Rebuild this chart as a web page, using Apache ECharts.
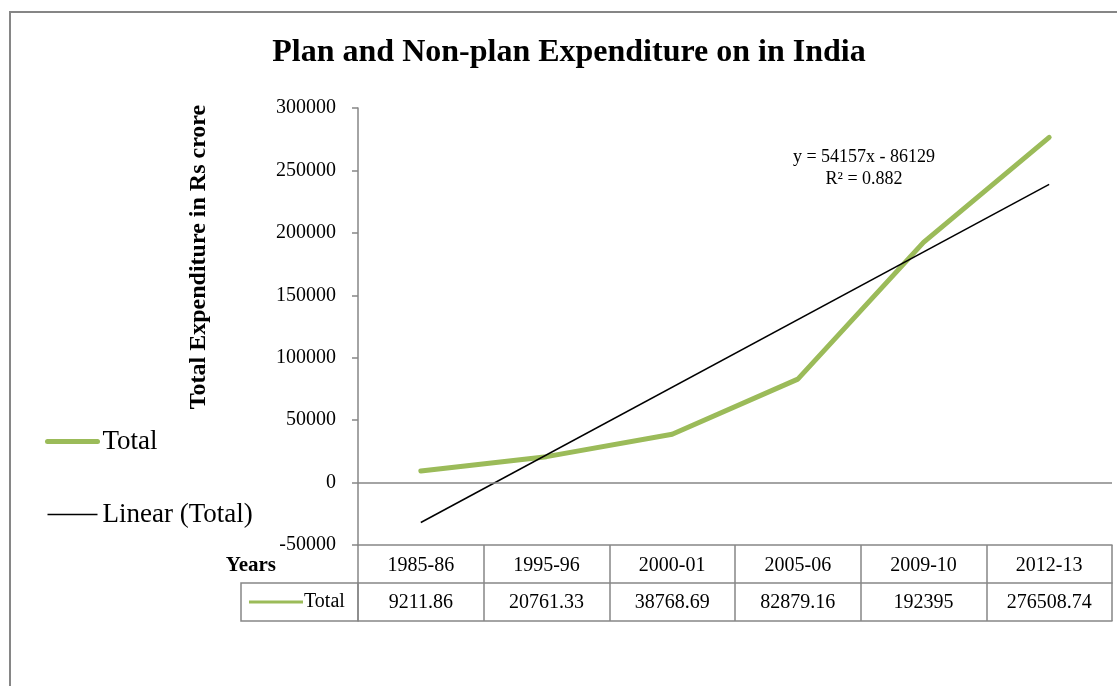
<!DOCTYPE html>
<html>
<head>
<meta charset="utf-8">
<script src="https://cdn.jsdelivr.net/npm/echarts@6/dist/echarts.min.js"></script>
<style>
  html, body { margin: 0; padding: 0; background: #ffffff; }
  #chart { width: 1117px; height: 686px; }
</style>
</head>
<body>
<div id="chart"></div>
<script>
// Years shown on the category axis and in the data table
const years = ['1985-86', '1995-96', '2000-01', '2005-06', '2009-10', '2012-13'];
// Total expenditure (Rs crore)
const totals = [9211.86, 20761.33, 38768.69, 82879.16, 192395, 276508.74];
// Linear trendline coefficients as printed on the chart
const trendSlope = 54157;
const trendIntercept = -86129;
const trendR2 = '0.882';
// Value axis ticks
const yMin = -50000, yMax = 300000, yStep = 50000;

const SERIF = '"Liberation Serif", "Times New Roman", serif';
const GRAY = '#868686';
const GREEN = '#9BBB59';

const grid = { left: 358, top: 108, right: 5, height: 437 };
const rowH = 38;
const gridBottomY = grid.top + grid.height;

// Trendline endpoints evaluated at the first and last category (x = 1..n)
const n = years.length;
const trendData = [
  [0, trendSlope * 1 + trendIntercept],
  [n - 1, trendSlope * n + trendIntercept]
];

const chart = echarts.init(document.getElementById('chart'), null, { renderer: 'canvas' });

const option = {
  animation: false,
  backgroundColor: '#ffffff',
  title: {
    text: 'Plan and Non-plan Expenditure on in India',
    left: 564,
    textAlign: 'center',
    top: 32,
    textStyle: { fontFamily: SERIF, fontWeight: 'bold', fontSize: 32, color: '#000' }
  },
  legend: {
    orient: 'vertical',
    left: 40,
    top: 423,
    itemGap: 46,
    itemWidth: 50,
    itemHeight: 14,
    itemStyle: { opacity: 0 },
    textStyle: { fontFamily: SERIF, fontSize: 27, color: '#000' },
    data: [
      { name: 'Total', lineStyle: { color: GREEN, width: 5, cap: 'round' } },
      { name: 'Linear (Total)', lineStyle: { color: '#000', width: 1.5 } }
    ]
  },
  grid: grid,
  xAxis: [
    {
      type: 'category',
      data: years,
      position: 'bottom',
      axisLine: { onZero: false, lineStyle: { color: GRAY, width: 1.5 } },
      axisTick: { show: true, length: rowH * 2, interval: 0, lineStyle: { color: GRAY, width: 1.5 } },
      axisLabel: { margin: 11, interval: 0, fontFamily: SERIF, fontSize: 20, color: '#000' },
      splitLine: { show: false }
    },
    {
      type: 'category',
      data: totals.map(v => String(v)),
      position: 'bottom',
      offset: rowH,
      axisLine: { onZero: false, lineStyle: { color: GRAY, width: 1.5 } },
      axisTick: { show: false },
      axisLabel: { margin: 10, interval: 0, fontFamily: SERIF, fontSize: 20, color: '#000' },
      splitLine: { show: false }
    },
    {
      type: 'category',
      data: years,
      position: 'bottom',
      offset: rowH * 2,
      axisLine: { onZero: false, lineStyle: { color: GRAY, width: 1.5 } },
      axisTick: { show: false },
      axisLabel: { show: false },
      splitLine: { show: false }
    }
  ],
  yAxis: {
    type: 'value',
    min: yMin,
    max: yMax,
    interval: yStep,
    axisLine: { show: true, lineStyle: { color: GRAY, width: 1.5 } },
    axisTick: { show: true, length: 6, lineStyle: { color: GRAY, width: 1.5 } },
    axisLabel: { margin: 22, fontFamily: SERIF, fontSize: 20, color: '#000', formatter: v => String(v) },
    splitLine: { show: false }
  },
  series: [
    {
      name: 'Total',
      type: 'line',
      xAxisIndex: 0,
      data: totals,
      symbol: 'none',
      lineStyle: { color: GREEN, width: 5, cap: 'round', join: 'round' },
      itemStyle: { color: GREEN },
      markLine: {
        silent: true,
        symbol: 'none',
        label: { show: false },
        lineStyle: { color: GRAY, width: 1.5, type: 'solid' },
        data: [{ yAxis: 0 }]
      },
      z: 3
    },
    {
      name: 'Linear (Total)',
      type: 'line',
      xAxisIndex: 0,
      data: trendData,
      symbol: 'none',
      lineStyle: { color: '#000', width: 1.5 },
      itemStyle: { color: '#000' },
      z: 4
    }
  ]
};

chart.setOption(option);

// Decorations: outer frame, table row header, axis captions and trendline equation
const cellLeft = 241;
const rowTop = gridBottomY + rowH;
chart.setOption({
  graphic: [
    {
      type: 'rect',
      shape: { x: 10, y: 12, width: 1300, height: 900 },
      style: { fill: 'none', stroke: GRAY, lineWidth: 2 },
      silent: true
    },
    {
      type: 'rect',
      shape: { x: cellLeft, y: rowTop, width: grid.left - cellLeft, height: rowH },
      style: { fill: 'none', stroke: GRAY, lineWidth: 1.5 },
      silent: true
    },
    {
      type: 'line',
      shape: { x1: cellLeft + 8, y1: rowTop + 19, x2: cellLeft + 62, y2: rowTop + 19 },
      style: { stroke: GREEN, lineWidth: 3 },
      silent: true
    },
    {
      type: 'text',
      x: cellLeft + 63, y: rowTop + 19,
      style: { text: 'Total', fontFamily: SERIF, fontSize: 20, fill: '#000', verticalAlign: 'middle' },
      silent: true
    },
    {
      type: 'text',
      x: 276, y: gridBottomY + 21,
      style: { text: 'Years', fontFamily: SERIF, fontSize: 21, fontWeight: 'bold', fill: '#000', align: 'right', verticalAlign: 'middle' },
      silent: true
    },
    {
      type: 'text',
      x: 199, y: 257,
      rotation: Math.PI / 2,
      style: { text: 'Total Expenditure in Rs crore', fontFamily: SERIF, fontSize: 24, fontWeight: 'bold', fill: '#000', align: 'center', verticalAlign: 'middle' },
      silent: true
    },
    {
      type: 'text',
      x: 864, y: 168,
      style: {
        text: 'y = ' + trendSlope + 'x - ' + Math.abs(trendIntercept) + '\nR² = ' + trendR2,
        fontFamily: SERIF, fontSize: 18, fill: '#000', align: 'center', verticalAlign: 'middle', lineHeight: 22
      },
      silent: true
    }
  ]
});
</script>
</body>
</html>
